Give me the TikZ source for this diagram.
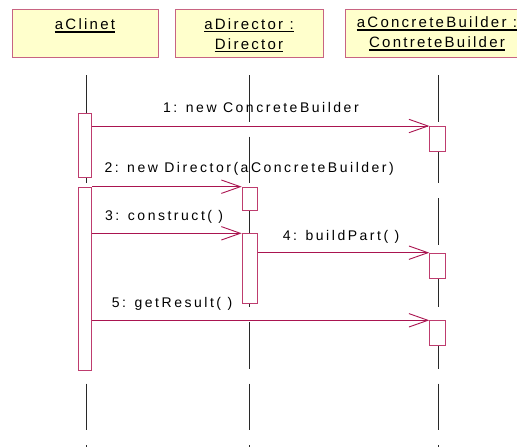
\documentclass[tikz,border=0pt]{standalone}
\usepackage{fontspec}
\setmainfont{Liberation Sans}
\newfontfamily\msgfont{Liberation Sans}[LetterSpace=18]
\newfontfamily\hdrfont{Liberation Sans}[LetterSpace=15]
\usetikzlibrary{arrows.meta}

\definecolor{msgred}{RGB}{170,20,80}
\definecolor{actborder}{RGB}{190,60,110}
\definecolor{hdrborder}{RGB}{200,100,130}
\definecolor{hdrfill}{RGB}{255,255,204}
\definecolor{lifegray}{RGB}{40,40,40}

\tikzset{
  hdrbox/.style={draw=hdrborder, fill=hdrfill, line width=1pt, rectangle,
    anchor=north west, inner sep=0pt, minimum height=48pt},
  hdrtext/.style={inner sep=0pt, anchor=base, text=black,
    font=\fontsize{15pt}{18pt}\hdrfont},
  uline/.style={draw=black, line width=1.4pt},
  lifeline/.style={draw=lifegray, line width=0.9pt, dash pattern=on 46.7pt off 15pt},
  actbox/.style={draw=actborder, fill=white, line width=0.9pt, rectangle,
    anchor=north west, inner sep=0pt},
  msg/.style={draw=msgred, line width=0.9pt,
    -{Straight Barb[length=19pt,width=13.4pt,line width=0.9pt]}},
  msgtext/.style={inner sep=0pt, anchor=base west, text=black,
    font=\fontsize{14pt}{16pt}\msgfont},
}

\begin{document}
\begin{tikzpicture}[x=1pt, y=-1pt]
  \clip (0,0) rectangle (517,447);
  \fill[white] (0,0) rectangle (517,447);

  % object headers
  \node[hdrbox, minimum width=146pt] (hc) at (12,9) {};
  \node[hdrbox, minimum width=148pt] (hd) at (175,9) {};
  \node[hdrbox, minimum width=184pt] (hb) at (345,9) {};

  \node[hdrtext] (hc1) at (85,29.5) {aClinet};
  \node[hdrtext] (hd1) at (249,29) {aDirector :};
  \node[hdrtext] (hd2) at (249,49.3) {Director};
  \node[hdrtext] (hb1) at (437,27.5) {aConcreteBuilder :};
  \node[hdrtext] (hb2) at (437,47.5) {ContreteBuilder};

  \foreach \t in {hc1,hd1,hd2,hb1,hb2}
    \draw[uline] ([yshift=-2.3pt]\t.base west) -- ([yshift=-2.3pt]\t.base east);

  % lifelines
  \draw[lifeline] ([xshift=0.5pt,yshift=-17pt]hc.south) -- ++(0,400);
  \draw[lifeline] ([yshift=-17pt]hd.south) -- ++(0,400);
  \draw[lifeline] ([xshift=0.5pt,yshift=-17pt]hb.south) -- ++(0,400);

  % activation bars
  \node[actbox, minimum width=13.6pt, minimum height=63.4pt]  (c1) at (77.7,113.3) {};
  \node[actbox, minimum width=13.6pt, minimum height=183.3pt] (c2) at (77.7,186.7) {};
  \node[actbox, minimum width=15pt,   minimum height=23.6pt]  (d1) at (241.7,186.7) {};
  \node[actbox, minimum width=15pt,   minimum height=70pt]    (d2) at (241.7,233.3) {};
  \node[actbox, minimum width=16pt,   minimum height=24.7pt]  (b1) at (429.3,126) {};
  \node[actbox, minimum width=16pt,   minimum height=25.6pt]  (b2) at (429.3,252.7) {};
  \node[actbox, minimum width=16pt,   minimum height=25pt]    (b3) at (429.3,320.3) {};

  % messages
  \draw[msg] (c1.east |- b1.north west) -- (b1.north west);
  \draw[msg] (c2.north east) -- (d1.north west);
  \draw[msg] (c2.east |- d2.north west) -- (d2.north west);
  \draw[msg] (d2.east |- b2.north west) -- (b2.north west);
  \draw[msg] (c2.east |- b3.north west) -- (b3.north west);

  % message labels
  \node[msgtext] (m1) at (163,112.3) {1: new ConcreteBuilder};
  \node[msgtext] (m2) at (104.3,172.7) {2: new Director(aConcreteBuilder)};
  \node[msgtext] (m3) at (105,220) {3: construct( )};
  \node[msgtext] (m4) at (282.7,240) {4: buildPart( )};
  \node[msgtext] (m5) at (111.7,307.7) {5: getResult( )};
\end{tikzpicture}
\end{document}
